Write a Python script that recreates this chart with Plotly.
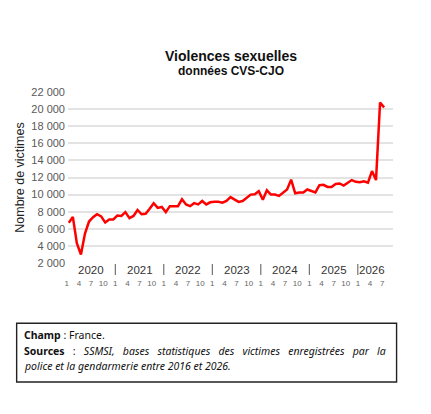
"""Violences sexuelles - données CVS-CJO (monthly victims, 2020-2026)."""

import plotly.graph_objects as go

# --- data -------------------------------------------------------------
start_year = 2020
years = [2020, 2021, 2022, 2023, 2024, 2025, 2026]
month_ticks = [1, 4, 7, 10]

victimes = [
    # 2020
    6700, 7400, 4300, 3000, 5450, 6850, 7350, 7700, 7450, 6750, 7100, 7100,
    # 2021
    7550, 7500, 7950, 7250, 7500, 8200, 7700, 7750, 8350, 9000, 8450, 8550,
    # 2022
    7950, 8650, 8650, 8650, 9450, 8850, 8650, 9000, 8850, 9250, 8850, 9100,
    # 2023
    9150, 9150, 9050, 9250, 9700, 9400, 9150, 9250, 9650, 10000, 10050, 10400,
    # 2024
    9400, 10500, 10000, 10000, 9850, 10200, 10600, 11750, 10150, 10250, 10250, 10600,
    # 2025
    10450, 10250, 11100, 11150, 10900, 10900, 11250, 11300, 11050, 11350, 11700, 11500,
    # 2026
    11450, 11550, 11400, 12750, 11700, 20750, 20200,
]

y_ticks = list(range(2000, 22001, 2000))

title = "Violences sexuelles"
subtitle = "données CVS-CJO"
y_title = "Nombre de victimes"
champ = "France."
sources_l1 = "SSMSI, bases statistiques des victimes enregistrées par la"
sources_l2 = "police et la gendarmerie entre 2016 et 2026."

# --- helpers ----------------------------------------------------------
n = len(victimes)
x_idx = list(range(n))


def month_pos(year, month):
    return (year - start_year) * 12 + (month - 1)


tickvals, ticktext = [], []
for yr in years:
    for m in month_ticks:
        k = month_pos(yr, m)
        if k < n:
            tickvals.append(k)
            ticktext.append(str(m))

fmt = lambda v: f"{v:,}".replace(",", " ")
# crude justification: widen word gaps on the first sources line
wide = " &nbsp;&nbsp;"
note_lines = [
    f"<b>Champ</b> : {champ}",
    "<b>Sources</b>" + wide + ":" + wide + "<i>" + sources_l1.replace(" ", wide) + "</i>",
    f"<i>{sources_l2}</i>",
]

fig = go.Figure()
fig.add_trace(
    go.Scatter(
        x=x_idx,
        y=victimes,
        mode="lines",
        line=dict(color="#ff0000", width=2.5),
        showlegend=False,
        hovertemplate="%{y}<extra></extra>",
    )
)

# year labels and separators
shapes = []
annotations = []
for i, yr in enumerate(years):
    first = month_pos(yr, 1)
    last = min(month_pos(yr, 12), n - 1)
    annotations.append(
        dict(
            x=(first + last) / 2, y=-0.039, xref="x", yref="paper",
            text=str(yr), showarrow=False,
            font=dict(family="Liberation Sans, Arial", size=11.5, color="#333333"),
            xanchor="center", yanchor="middle",
        )
    )
    if i > 0:
        shapes.append(
            dict(
                type="line", xref="x", yref="paper",
                x0=first - 0.5, x1=first - 0.5, y0=-0.006, y1=-0.07,
                line=dict(color="#555555", width=1),
            )
        )

# titles
annotations.append(
    dict(
        x=0.5, y=1.213, xref="paper", yref="paper", text=f"<b>{title}</b>",
        showarrow=False, xanchor="center", yanchor="middle",
        font=dict(family="Liberation Sans, Arial", size=14, color="#111111"),
    )
)
annotations.append(
    dict(
        x=0.5, y=1.12, xref="paper", yref="paper", text=f"<b>{subtitle}</b>",
        showarrow=False, xanchor="center", yanchor="middle",
        font=dict(family="Liberation Sans, Arial", size=12, color="#111111"),
    )
)

# footnote box
shapes.append(
    dict(
        type="rect", xref="paper", yref="paper",
        x0=-0.158, x1=1.011, y0=-0.696, y1=-0.352,
        line=dict(color="#222222", width=1.4),
    )
)
for j, (line, yy) in enumerate(zip(note_lines, [-0.421, -0.512, -0.602])):
    annotations.append(
        dict(
            x=-0.141, y=yy, xref="paper", yref="paper",
            text=line, showarrow=False, xanchor="left", yanchor="middle",
            font=dict(family="Noto Sans", size=10.5, color="#111111"),
        )
    )

# page body adds an 8px offset, so the figure is drawn 8px smaller
fig.update_layout(
    width=423,
    height=406,
    margin=dict(l=56.5, r=38, t=83.7, b=151.3),
    paper_bgcolor="white",
    plot_bgcolor="white",
    shapes=shapes,
    annotations=annotations,
    font=dict(family="Liberation Sans, Arial"),
)
fig.update_xaxes(
    range=[-0.2, 80.2],
    tickvals=tickvals,
    ticktext=ticktext,
    ticks="",
    ticklabelstandoff=14,
    ticklabelshift=-2,
    tickfont=dict(size=8, color="#666666"),
    showgrid=False,
    zeroline=False,
    showline=False,
)
fig.update_yaxes(
    range=[2000, 22000],
    tickvals=y_ticks,
    ticktext=[fmt(v) for v in y_ticks],
    tickfont=dict(size=11, color="#595959"),
    showgrid=True,
    gridcolor="#e3e3e3",
    gridwidth=1.5,
    zeroline=False,
    ticks="",
    ticklabelstandoff=2,
    title=dict(text=y_title, font=dict(size=12.5, color="#222222"), standoff=3),
)

fig.write_html("out.html")
